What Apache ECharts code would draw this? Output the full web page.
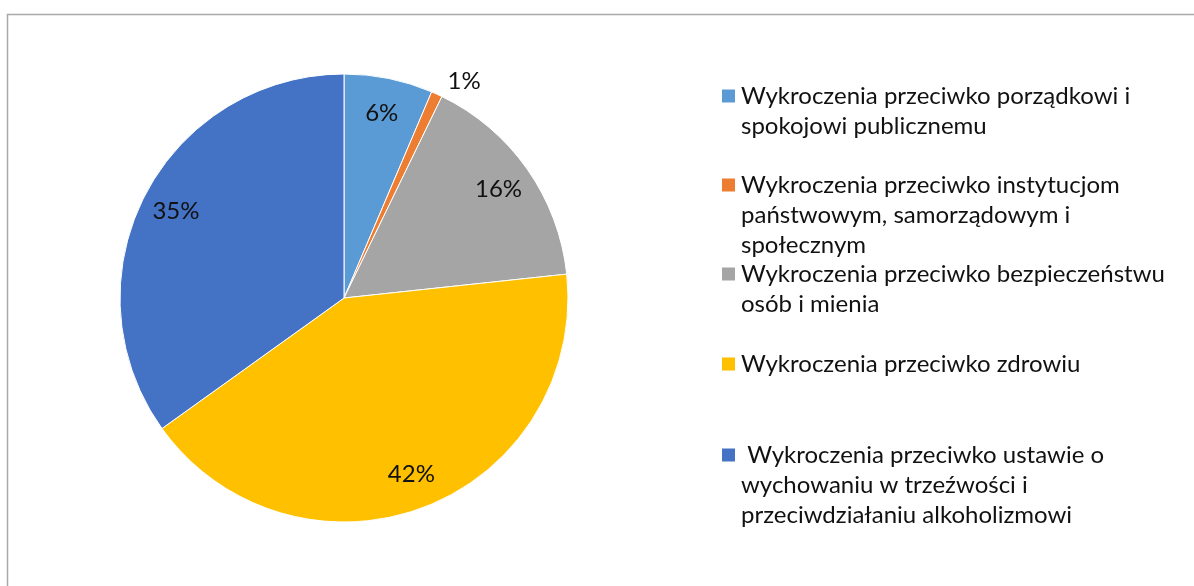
<!DOCTYPE html>
<html>
<head>
<meta charset="utf-8">
<script src="https://cdn.jsdelivr.net/npm/echarts@6/dist/echarts.min.js"></script>
<style>
html,body{margin:0;padding:0;background:#fff;}
#chart{width:1194px;height:586px;}
</style>
</head>
<body>
<div id="chart"></div>
<script>
const categories = [
  'Wykroczenia przeciwko porządkowi i spokojowi publicznemu',
  'Wykroczenia przeciwko instytucjom państwowym, samorządowym i społecznym',
  'Wykroczenia przeciwko bezpieczeństwu osób i mienia',
  'Wykroczenia przeciwko zdrowiu',
  'Wykroczenia przeciwko ustawie o wychowaniu w trzeźwości i przeciwdziałaniu alkoholizmowi'
];
const legendLines = [
  ['Wykroczenia przeciwko porządkowi i', 'spokojowi publicznemu'],
  ['Wykroczenia przeciwko instytucjom', 'państwowym, samorządowym i', 'społecznym'],
  ['Wykroczenia przeciwko bezpieczeństwu', 'osób i mienia'],
  ['Wykroczenia przeciwko zdrowiu'],
  [' Wykroczenia przeciwko ustawie o', 'wychowaniu w trzeźwości i', 'przeciwdziałaniu alkoholizmowi']
];
const shares = [6.4, 0.8, 16.1, 41.8, 34.9];
const pctLabels = ['6%', '1%', '16%', '42%', '35%'];
const colors = ['#5B9BD5', '#ED7D31', '#A5A5A5', '#FFC000', '#4472C4'];

const FONT = 'Lato';
const FS = 24;
const LH = 30;
const legendFirstLineY = [96, 185, 274, 364, 455];

const chart = echarts.init(document.getElementById('chart'), null, {renderer: 'canvas'});

const legends = categories.map((name, i) => {
  const n = legendLines[i].length;
  return {
    data: [name],
    left: 720,
    top: legendFirstLineY[i] - (LH / 2) * (2 * n - 1),
    padding: 0,
    icon: 'rect',
    itemWidth: 15,
    itemHeight: 15,
    itemGap: 0,
    selectedMode: false,
    formatter: () => '\n'.repeat(n - 1) + legendLines[i].join('\n'),
    textStyle: {fontFamily: FONT, fontSize: FS, lineHeight: LH, color: '#111111'}
  };
});

const R = 224;
const CENTER = [344, 298];

chart.setOption({
  animation: false,
  color: colors,
  legend: legends,
  graphic: [{
    type: 'rect',
    shape: {x: 7.5, y: 14.5, width: 1300, height: 700},
    style: {fill: 'none', stroke: '#a9a9a9', lineWidth: 1.5},
    silent: true
  }],
  series: [
    {
      type: 'pie',
      center: CENTER,
      radius: [0, R],
      startAngle: 90,
      clockwise: true,
      label: {show: false},
      labelLine: {show: false},
      itemStyle: {borderColor: '#ffffff', borderWidth: 1},
      emphasis: {disabled: true},
      data: categories.map((name, i) => ({name, value: shares[i]}))
    },
    {
      type: 'pie',
      center: CENTER,
      radius: [R * 0.66, R],
      startAngle: 90,
      clockwise: true,
      silent: true,
      avoidLabelOverlap: false,
      itemStyle: {color: 'rgba(0,0,0,0)', borderWidth: 0},
      emphasis: {disabled: true},
      labelLine: {show: false},
      label: {
        show: true,
        position: 'inside',
        fontFamily: FONT,
        fontSize: FS,
        color: '#111111',
        formatter: p => pctLabels[p.dataIndex]
      },
      data: categories.map((name, i) => {
        const d = {name, value: shares[i]};
        if (i === 1) {
          d.label = {position: 'outside'};
          d.labelLine = {show: false, length: 14, length2: 0};
        }
        return d;
      })
    }
  ]
});
</script>
</body>
</html>
